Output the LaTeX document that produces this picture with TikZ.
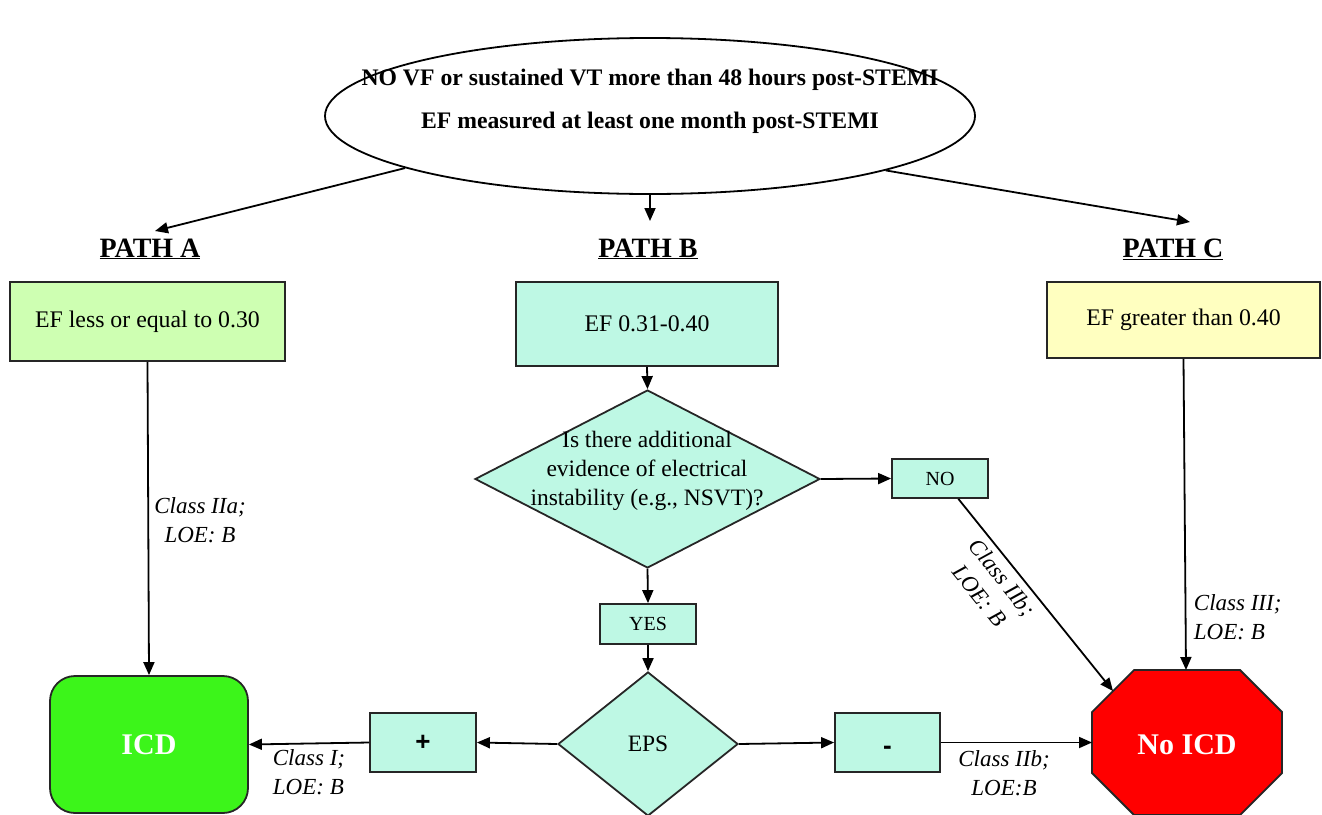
\documentclass[tikz,border=0pt]{standalone}
\usepackage{fontspec}
\setmainfont{Liberation Serif}
\newfontfamily\arialf{Liberation Sans}
\usetikzlibrary{arrows.meta,shapes.geometric}
\definecolor{lgreen}{RGB}{206,255,178}
\definecolor{mint}{RGB}{190,248,228}
\definecolor{lyellow}{RGB}{255,255,192}
\definecolor{icdgreen}{RGB}{60,245,26}
\definecolor{stopred}{RGB}{255,0,0}
\begin{document}
\begin{tikzpicture}[x=1pt,y=-1pt,line width=1.8pt,
  arr/.style={-{Triangle[length=13pt,width=11pt]}},
  box/.style={draw=black!85,rectangle,inner sep=0pt,font=\fontsize{23.8}{29}\selectfont},
  smallbox/.style={box,fill=mint,font=\fontsize{20}{24}\selectfont},
  signbox/.style={box,fill=mint,font=\arialf\bfseries\fontsize{26}{30}\selectfont},
  dia/.style={draw=black!85,diamond,fill=mint,inner sep=0pt},
  lbl/.style={inner sep=0pt,font=\itshape\fontsize{23}{29}\selectfont},
  pathlbl/.style={inner sep=0pt,font=\bfseries\fontsize{28}{30}\selectfont},
  bigtxt/.style={inner sep=0pt,text=white,font=\bfseries\fontsize{30}{34}\selectfont}]
\useasboundingbox (0,0) rectangle (1322,814);

% top ellipse
\node[draw,ellipse,minimum width=650pt,minimum height=156pt,inner sep=0pt] (top) at (650,116) {};
\node[inner sep=0pt,align=center,font=\bfseries\fontsize{23.7}{43}\selectfont] (toptxt) at (650,101)
  {NO VF or sustained VT more than 48 hours post-STEMI\\EF measured at least one month post-STEMI};

% path labels
\node[pathlbl] (pathA) at (150,249) {\underline{PATH A}};
\node[pathlbl] (pathB) at (648,249) {\underline{PATH B}};
\node[pathlbl] (pathC) at (1173,249) {\underline{PATH C}};
\coordinate (pa) at (155,231);
\coordinate (pb) at (650,221);
\coordinate (pc) at (1190,222);

% EF boxes
\node[box,fill=lgreen,minimum width=275pt,minimum height=79pt] (boxA) at (147.5,321.5) {EF less or equal to 0.30};
\node[box,fill=mint,minimum width=262pt,minimum height=84pt] (boxB) at (647,324) {EF 0.31-0.40};
\node[box,fill=lyellow,minimum width=273pt,minimum height=76pt] (boxC) at (1183.5,320) {EF greater than 0.40};

% decision diamond
\node[dia,minimum width=345pt,minimum height=178pt] (q) at (647.5,479) {};
\node[inner sep=0pt,align=center,font=\fontsize{23.5}{29}\selectfont] (qtxt) at (647,471)
  {Is there additional\\evidence of electrical\\instability (e.g., NSVT)?};

\node[smallbox,minimum width=96pt,minimum height=39pt] (no) at (940,478.5) {NO};
\node[smallbox,minimum width=96pt,minimum height=40pt] (yes) at (648,624) {YES};

% EPS
\node[dia,minimum width=180pt,minimum height=144pt,font=\fontsize{23.5}{29}\selectfont] (eps) at (648,744) {EPS};
\node[signbox,minimum width=106pt,minimum height=59pt] (plus) at (423,742.5) {+};
\node[signbox,minimum width=105pt,minimum height=59pt] (minus) at (887.5,742.5) {\raisebox{-12pt}[0pt][0pt]{-}};

% ICD
\node[draw=black!85,fill=icdgreen,rounded corners=25pt,minimum width=198pt,minimum height=137pt,inner sep=0pt] (icd) at (149,744.5) {};
\node[bigtxt] (icdtxt) at (149,744.5) {ICD};

% No ICD octagon
\filldraw[draw=black!85,fill=stopred] (1134,670) -- (1240,670) -- (1282,712) -- (1282,773) -- (1240,815) -- (1134,815) -- (1092,773) -- (1092,712) -- cycle;
\node[bigtxt] (noicd) at (1187,745) {No ICD};
\coordinate (octtop) at (1186,670);
\coordinate (octleft) at (1092,742.5);
\coordinate (octnw) at (1113,691);

% connectors
\draw[arr] (top.192.5) -- (pa);
\draw[arr] (top.south) -- (pb);
\draw[arr] (top.347.6) -- (pc);
\draw[arr] (boxA.south) -- (icd.north);
\draw[arr] (boxB.south) -- (q.north);
\draw[arr] (q.east) -- (no.west);
\draw[arr] (q.south) -- (yes.north);
\draw[arr] (yes.south) -- (eps.north);
\draw[arr] (eps.west) -- (plus.east);
\draw[arr] (plus.west) -- (icd.east);
\draw[arr] (eps.east) -- (minus.west);
\draw[arr] (minus.east) -- (octleft);
\draw[arr] (boxC.south) -- (octtop);
\draw[arr] (no.-48) -- node[lbl,sloped,below,pos=0.36,align=center,yshift=-6pt] (l4) {Class IIb;\\LOE: B} (octnw);

% labels
\node[lbl,align=center] (l1) at (200,520) {Class IIa;\\LOE: B};
\node[lbl,align=left,anchor=west] (l2) at (272,772) {Class I;\\LOE: B};
\node[lbl,align=center] (l3) at (1004,773) {Class IIb;\\LOE:B};
\node[lbl,align=left,anchor=west] (l5) at (1193,617) {Class III;\\LOE: B};
\end{tikzpicture}
\end{document}
